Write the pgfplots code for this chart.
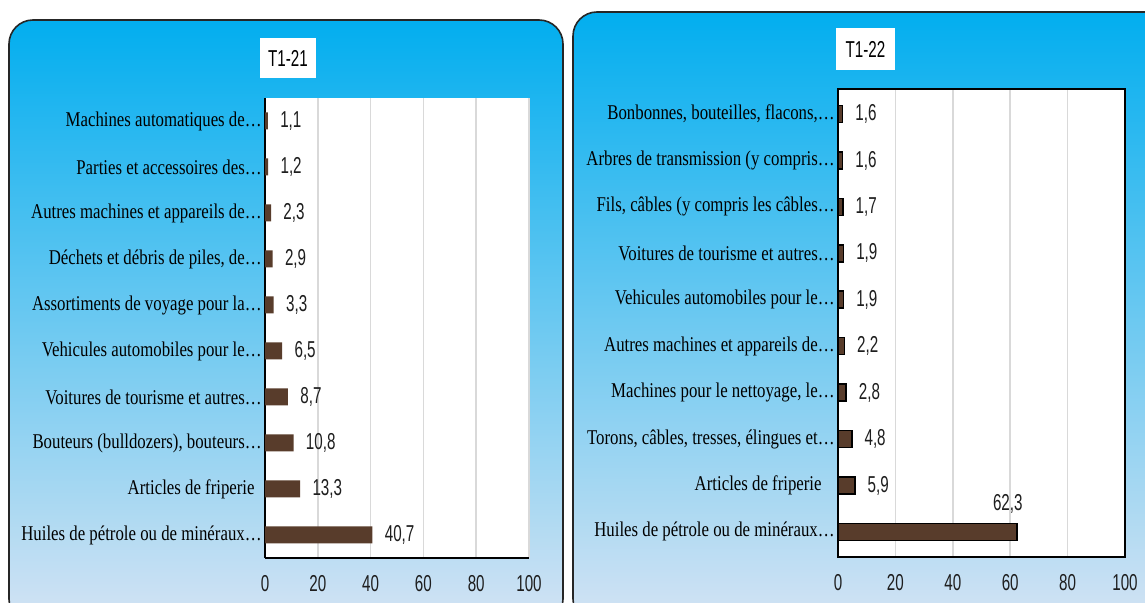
\documentclass[border=0pt]{standalone}
\usepackage{pgfplots}
\pgfplotsset{compat=1.18}
\usepackage{fontspec}
\setmainfont[FakeStretch=0.8]{Liberation Serif}
\newfontfamily\numfont[FakeStretch=0.66]{Liberation Sans}

\definecolor{panelTop}{RGB}{2,174,239}
\definecolor{panelMid}{RGB}{95,192,236}
\definecolor{panelBot}{RGB}{212,227,243}
\definecolor{barbrown}{RGB}{88,60,43}
\definecolor{gridgray}{RGB}{217,217,217}
\definecolor{numtext}{RGB}{30,30,30}

\pgfplotsset{
  panel/.style={
    anchor=south west, scale only axis,
    xbar, bar width=8.5pt, bar shift=0pt,
    xmin=0, xmax=100, ymin=-0.5, ymax=9.5,
    xtick={0,20,...,100}, ytick={0,...,9},
    xmajorgrids, grid style={gridgray, line width=0.8pt},
    axis background/.style={fill=white},
    major tick length=0pt,
    /pgf/number format/assume math mode=true,
    xticklabel style={font=\numfont\fontsize{11.5}{13}\selectfont, text=numtext, yshift=-5pt},
    yticklabel style={font=\fontsize{10.5}{12}\selectfont, text=black, inner sep=1.5pt},
    nodes near coords={\pgfmathprintnumber[fixed,fixed zerofill,precision=1,use comma]{\pgfplotspointmeta}},
    every node near coord/.append style={font=\numfont\fontsize{11.5}{13}\selectfont, text=numtext, inner sep=0pt, xshift=6pt},
  }
}

\begin{document}
\begin{tikzpicture}[x=0.5pt,y=0.5pt]
\path[use as bounding box, clip] (0,0) rectangle (1145,603);

% panel backgrounds
\path[draw=black!85, line width=0.8pt, rounded corners=12pt,
  top color=panelTop, middle color=panelMid, bottom color=panelBot]
  (9,583) rectangle (563,-20);
\path[draw=black!85, line width=0.8pt, rounded corners=12pt,
  top color=panelTop, middle color=panelMid, bottom color=panelBot]
  (573,591) rectangle (1170,-20);

% titles
\node[fill=white, minimum width=28pt, minimum height=20pt, inner sep=0pt,
  font=\numfont\fontsize{11.5}{13}\selectfont] at (288,545) {T1-21};
\node[fill=white, minimum width=29.5pt, minimum height=21pt, inner sep=0pt,
  font=\numfont\fontsize{11.5}{13}\selectfont] at (865.5,554) {T1-22};

% left: T1-21
\begin{axis}[panel,
  at={(132.5pt,22.5pt)}, width=132pt, height=230pt,
  axis x line*=bottom, axis y line*=left,
  axis line style={-, black, line width=1pt},
  yticklabels={
    {Huiles de pétrole ou de minéraux…},
    {Articles de friperie\rule{3.5pt}{0pt}},
    {Bouteurs (bulldozers), bouteurs…},
    {Voitures de tourisme et autres…},
    {Vehicules automobiles pour le…},
    {Assortiments de voyage pour la…},
    {Déchets et débris de piles, de…},
    {Autres machines et appareils de…},
    {Parties et accessoires des…},
    {Machines automatiques de…}},
]
\addplot[fill=barbrown, draw=none] coordinates {
  (40.7,0) (13.3,1) (10.8,2) (8.7,3) (6.5,4)
  (3.3,5) (2.9,6) (2.3,7) (1.2,8) (1.1,9)
};
\end{axis}

% right: T1-22
\begin{axis}[panel,
  at={(419pt,23pt)}, width=143.5pt, height=234pt,
  ymin=-0.54, ymax=9.54,
  axis line style={black, line width=1pt},
  yticklabels={
    {Huiles de pétrole ou de minéraux…},
    {Articles de friperie\rule{6.5pt}{0pt}},
    {Torons, câbles, tresses, élingues et…},
    {Machines pour le nettoyage, le…},
    {Autres machines et appareils de…},
    {Vehicules automobiles pour le…},
    {Voitures de tourisme et autres…},
    {Fils, câbles (y compris les câbles…},
    {Arbres de transmission (y compris…},
    {Bonbonnes, bouteilles, flacons,…}},
]
\addplot[fill=barbrown, draw=black, line width=0.8pt] coordinates {
  (5.9,1) (4.8,2) (2.8,3) (2.2,4)
  (1.9,5) (1.9,6) (1.7,7) (1.6,8) (1.6,9)
};
\addplot[fill=barbrown, draw=black, line width=0.8pt,
  every node near coord/.append style={anchor=south, xshift=-10.5pt, yshift=9pt}]
  coordinates {(62.3,0)};
\end{axis}
\end{tikzpicture}
\end{document}
